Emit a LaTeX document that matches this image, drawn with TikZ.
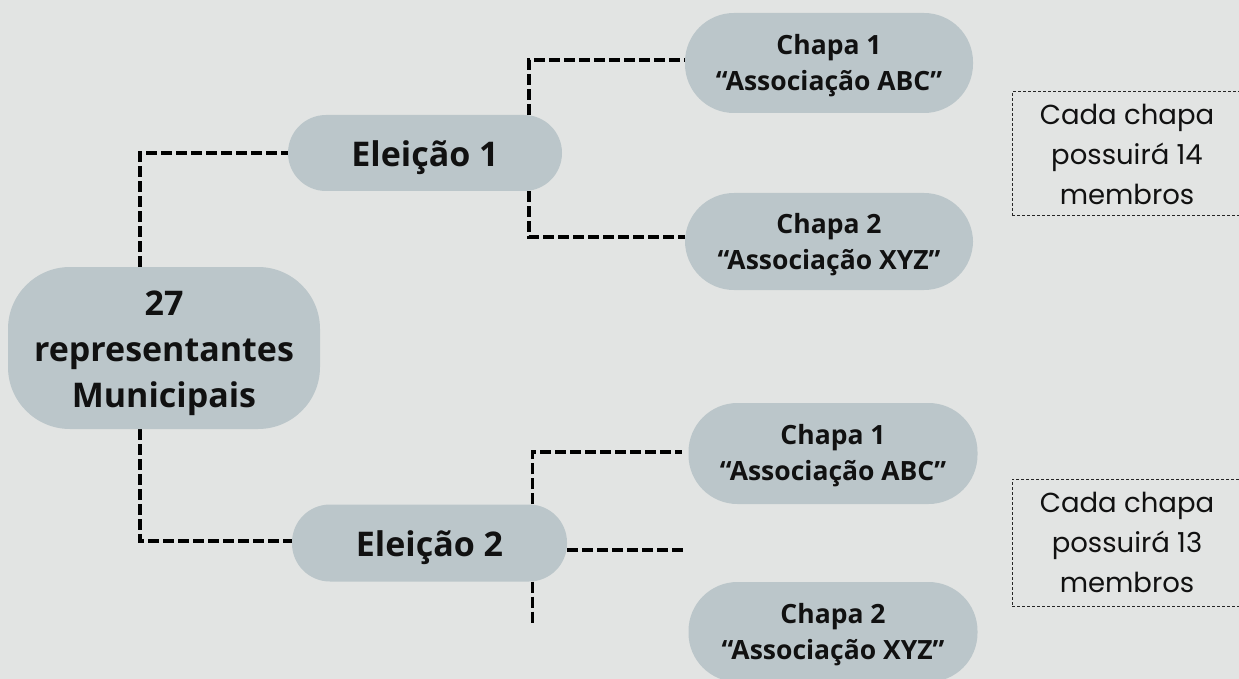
\documentclass[tikz,border=0pt]{standalone}
\usepackage{fontspec}
\setmainfont{Open Sans}
\newfontfamily\gothic{Poppins}
\usetikzlibrary{backgrounds}
\definecolor{bg}{RGB}{226,228,227}
\definecolor{nodefill}{RGB}{187,198,202}
\definecolor{ink}{RGB}{17,17,17}
\begin{document}
\begin{tikzpicture}[x=1pt,y=-1pt,
  pill/.style={fill=nodefill, inner sep=0pt,
    minimum width=288pt, minimum height=100pt, rounded corners=49pt},
  elbox/.style={fill=nodefill, inner sep=0pt,
    minimum width=274pt, minimum height=76pt, rounded corners=38pt},
  rootbox/.style={fill=nodefill, inner sep=0pt,
    minimum width=312pt, minimum height=162pt, rounded corners=62pt},
  bigtxt/.style={inner sep=0pt, align=center, text=ink,
    font=\fontsize{34}{46}\selectfont\bfseries},
  pilltxt/.style={inner sep=0pt, align=center, text=ink,
    font=\fontsize{26.5}{36}\selectfont\bfseries},
  notebox/.style={draw=black!85, line width=1pt, dash pattern=on 3pt off 2pt,
    inner sep=0pt, align=center, text=ink,
    font=\gothic\fontsize{27.5}{40}\selectfont,
    minimum width=230pt, minimum height=124pt},
  conn/.style={draw=black, line width=3.5pt, dash pattern=on 11pt off 4pt}]
\useasboundingbox (0,0) rectangle (1239,679);

\node[rootbox] (root) at (164,348) {};
\node[elbox] (e1) at (425,153) {};
\node[elbox, minimum width=275pt, minimum height=77pt] (e2) at (429.5,543) {};
\node[pill] (c1) at (829,63) {};
\node[pill, minimum height=97pt] (c2) at (829,241.5) {};
\node[pill, minimum width=289pt, minimum height=101pt] (c3) at (833,453.5) {};
\node[pill, minimum width=289pt] (c4) at (833,632) {};

\node[bigtxt] (rootT) at ([yshift=-5pt]root.center) {27\\representantes\\Municipais};
\node[bigtxt] (e1T) at ([yshift=-5pt]e1.center) {Eleição 1};
\node[bigtxt] (e2T) at ([yshift=-5pt]e2.center) {Eleição 2};
\node[pilltxt] (c1T) at ([yshift=-3pt]c1.center) {Chapa 1\\“Associação ABC”};
\node[pilltxt] (c2T) at ([yshift=-3pt]c2.center) {Chapa 2\\“Associação XYZ”};
\node[pilltxt] (c3T) at ([yshift=-2.5pt]c3.center) {Chapa 1\\“Associação ABC”};
\node[pilltxt] (c4T) at ([yshift=-3pt]c4.center) {Chapa 2\\“Associação XYZ”};

\node[notebox] (n1) at (1127,154) {Cada chapa\\possuirá 14\\membros};
\node[notebox, minimum height=127pt] (n2) at (1127,542.5) {Cada chapa\\possuirá 13\\membros};

\coordinate (m2) at (684,550);
\coordinate (b2) at (532.5,624);

\begin{scope}[on background layer]
\fill[bg] (0,0) rectangle (1239,679);
\draw[conn] ([xshift=-24pt]root.north) |- (e1.west);
\draw[conn] ([xshift=-24pt]root.south) |- ([yshift=2pt]e2.west);
\draw[conn] ([xshift=104pt]e1.north) |- ([yshift=3pt]c1.west);
\draw[conn] ([xshift=104pt]e1.south) |- ([yshift=4.5pt]c2.west);
\draw[conn] ([xshift=103pt]e2.north) |- ([yshift=1.5pt,xshift=-6pt]c3.west);
\draw[conn] ([yshift=-7pt]e2.east) -- (m2);
\draw[conn] ([xshift=103pt]e2.south) -- (b2);
\end{scope}
\end{tikzpicture}
\end{document}
